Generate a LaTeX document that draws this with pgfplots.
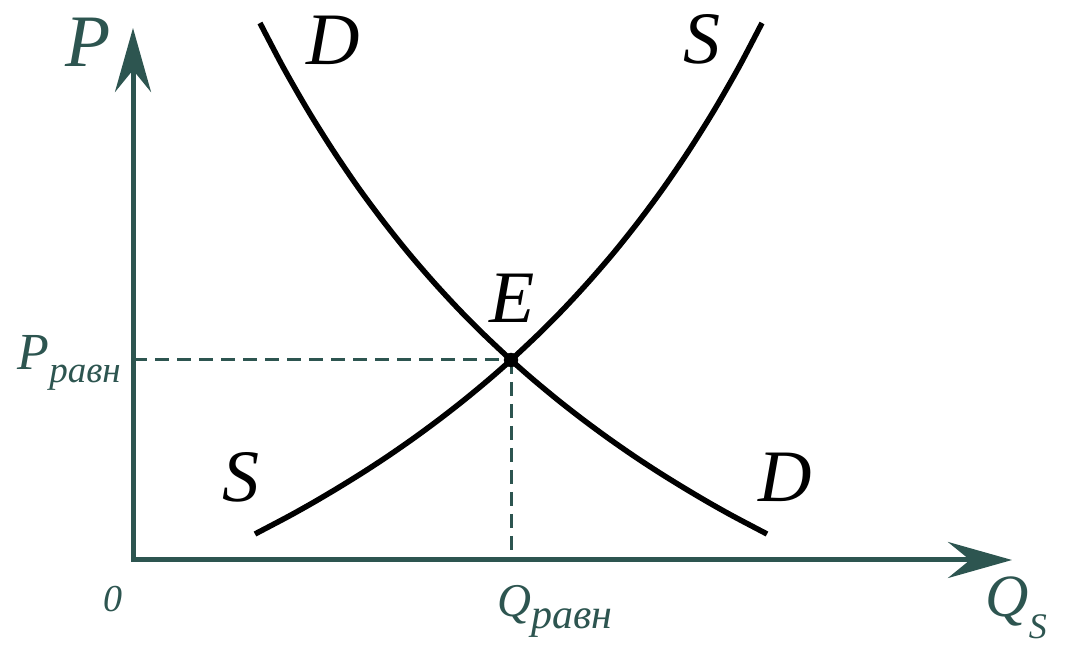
\documentclass[border=0pt]{standalone}
\usepackage{fontspec}
\setmainfont{Liberation Serif}
\usepackage{pgfplots}
\pgfplotsset{compat=1.18}
\usetikzlibrary{arrows.meta}
\definecolor{axTeal}{HTML}{2D5550}

\newcommand{\fs}[1]{\fontsize{#1}{#1}\selectfont\itshape}

\begin{document}
\begin{tikzpicture}
\begin{axis}[
  x=1pt, y=1pt,
  xmin=-133, xmax=933, ymin=-91, ymax=560,
  hide axis, clip=false,
  every node/.append style={inner sep=0pt}
]
% axes
\addplot[axTeal, line width=5pt, line join=miter,
  {Stealth[length=64pt, width=36pt, inset=22pt]}-{Stealth[length=64pt, width=36pt, inset=22pt]}]
  coordinates {(0,532) (0,0) (879,0)};
% guide lines to the equilibrium
\addplot[axTeal, line width=3pt, dash pattern=on 14pt off 8pt]
  coordinates {(0,200) (378,200)};
\addplot[axTeal, line width=3pt, dash pattern=on 14pt off 8pt]
  coordinates {(378,200) (378,0)};
% demand
\addplot[black, line width=5.5pt, smooth] coordinates {
  (127,537.0) (150,493.1) (175,449.5) (200,409.6) (225,372.8) (250,339.0)
  (275,307.6) (300,278.6) (325,251.5) (350,226.3) (378,200.0) (400,180.6)
  (425,159.9) (450,140.4) (475,122.0) (500,104.6) (525,88.2) (550,72.7)
  (575,57.9) (600,43.9) (634,26.0)};
% supply
\addplot[black, line width=5.5pt, smooth] coordinates {
  (122,26.0) (156,43.9) (181,57.9) (206,72.7) (231,88.2) (256,104.6)
  (281,122.0) (306,140.4) (331,159.9) (356,180.6) (378,200.0) (406,226.3)
  (431,251.5) (456,278.6) (481,307.6) (506,339.0) (531,372.8) (556,409.6)
  (581,449.5) (606,493.1) (629,537.0)};
% equilibrium point
\addplot[only marks, mark=*, mark size=7pt, black] coordinates {(378,200)};

% labels
\node[anchor=base, text=axTeal] at (axis cs:-45,493) {\fs{74}P};
\node[anchor=base] at (axis cs:200,495) {\fs{74}D};
\node[anchor=base] at (axis cs:569,496) {\fs{74}S};
\node[anchor=base] at (axis cs:379,237) {\fs{74}E};
\node[anchor=base] at (axis cs:108,58) {\fs{74}S};
\node[anchor=base] at (axis cs:652,58) {\fs{74}D};
\node[anchor=base west, text=axTeal] at (axis cs:-119,190)
  {\fs{52}P\raisebox{-13pt}{\fs{37}равн}};
\node[anchor=base, text=axTeal] at (axis cs:-20,-52) {\fs{38}0};
\node[anchor=base west, text=axTeal] at (axis cs:361,-57)
  {\fs{47}Q\raisebox{-12pt}{\fs{42}равн}};
\node[anchor=base west, text=axTeal] at (axis cs:849,-57)
  {\fs{60}Q\raisebox{-22pt}{\fs{36}S}};

\coordinate (bl) at (axis cs:-133,-91);
\coordinate (tr) at (axis cs:933,560);
\end{axis}
\pgfresetboundingbox
\useasboundingbox (bl) rectangle (tr);
\end{tikzpicture}
\end{document}
